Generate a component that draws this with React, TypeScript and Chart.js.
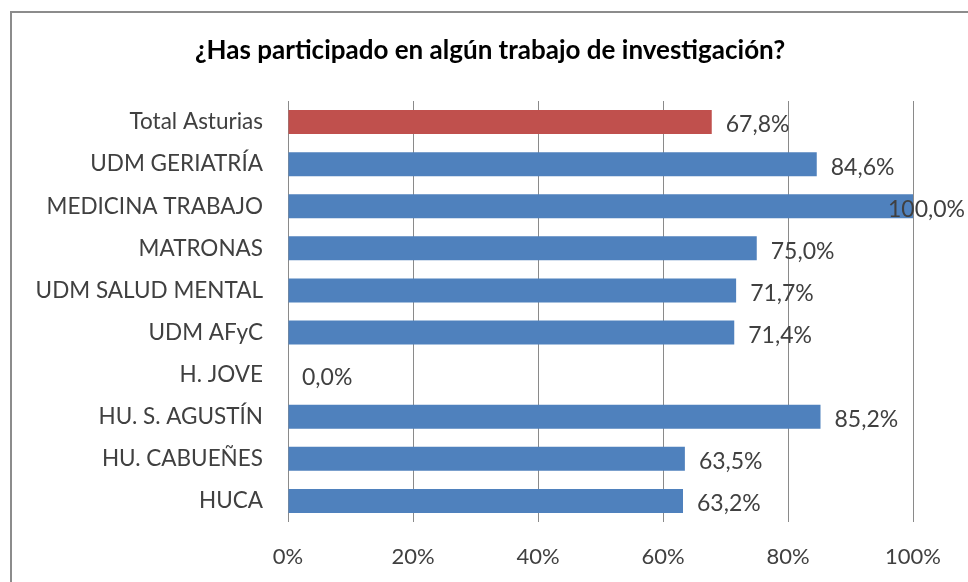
import React, { useEffect, useRef } from "react";
import { Chart, registerables } from "chart.js";

Chart.register(...registerables);

const TITLE = "¿Has participado en algún trabajo de investigación?";
const categories = [
  "Total Asturias",
  "UDM GERIATRÍA",
  "MEDICINA TRABAJO",
  "MATRONAS",
  "UDM SALUD MENTAL",
  "UDM AFyC",
  "H. JOVE",
  "HU. S. AGUSTÍN",
  "HU. CABUEÑES",
  "HUCA",
];
const values = [67.8, 84.6, 100.0, 75.0, 71.7, 71.4, 0.0, 85.2, 63.5, 63.2];
const xTicks = [0, 20, 40, 60, 80, 100];

const FONT = "Lato, 'Open Sans', sans-serif";
const TEXT = "#404040";

export default function App() {
  const ref = useRef<HTMLCanvasElement | null>(null);

  useEffect(() => {
    if (!ref.current) return;
    const framePlugin = {
      id: "frame",
      beforeDraw(chart: any) {
        const ctx = chart.ctx;
        ctx.save();
        ctx.fillStyle = "#ffffff";
        ctx.fillRect(0, 0, chart.width, chart.height);
        ctx.strokeStyle = "#8c8c8c";
        ctx.lineWidth = 2;
        ctx.beginPath();
        ctx.moveTo(11, chart.height + 5);
        ctx.lineTo(11, 12);
        ctx.lineTo(chart.width + 5, 12);
        ctx.stroke();
        ctx.fillStyle = "#000000";
        ctx.font = `bold 26px ${FONT}`;
        ctx.textAlign = "center";
        ctx.textBaseline = "middle";
        ctx.fillText(TITLE, 490, 51);
        ctx.restore();
      },
    };
    const labelPlugin = {
      id: "barLabels",
      afterDatasetsDraw(chart: any) {
        const ctx = chart.ctx;
        const meta = chart.getDatasetMeta(0);
        ctx.save();
        ctx.font = `23px ${FONT}`;
        ctx.fillStyle = TEXT;
        ctx.textAlign = "left";
        ctx.textBaseline = "middle";
        meta.data.forEach((bar: any, i: number) => {
          const txt = values[i].toFixed(1).replace(".", ",") + "%";
          const w = ctx.measureText(txt).width;
          let x = bar.x + 14;
          if (x + w > chart.width - 3) x = chart.width - 3 - w;
          ctx.fillText(txt, x, bar.y + 3);
        });
        ctx.restore();
      },
    };
    const chart = new Chart(ref.current, {
      type: "bar",
      data: {
        labels: categories,
        datasets: [
          {
            data: values,
            backgroundColor: (c: any) => (c.dataIndex === 0 ? "#C0504D" : "#4F81BD"),
            borderWidth: 0,
            categoryPercentage: 1,
            barPercentage: 0.57,
          },
        ],
      },
      options: {
        indexAxis: "y",
        animation: false,
        responsive: false,
        maintainAspectRatio: false,
        layout: { padding: { top: 101, left: 10, right: 55, bottom: 18 } },
        plugins: {
          legend: { display: false },
          title: { display: false },
          tooltip: { enabled: false },
        },
        scales: {
          x: {
            min: 0,
            max: 100,
            afterBuildTicks(scale: any) {
              scale.ticks = xTicks.map((v) => ({ value: v }));
            },
            afterFit(scale: any) {
              scale.height = 42;
            },
            grid: { color: "#8a8a8a", lineWidth: 1, drawTicks: false },
            border: { display: false },
            ticks: {
              padding: 22,
              color: TEXT,
              font: { family: FONT, size: 22 },
              callback: (v: any) => v + "%",
            },
          },
          y: {
            afterFit(scale: any) {
              scale.width = 278;
            },
            grid: { display: false },
            border: { display: false },
            ticks: {
              padding: 17,
              color: TEXT,
              font: { family: FONT, size: 22.5 },
            },
          },
        },
      },
      plugins: [framePlugin, labelPlugin],
    } as any);
    return () => chart.destroy();
  }, []);

  return (
    <div style={{ position: "fixed", left: 0, top: 0, width: 968, height: 582 }}>
      <canvas ref={ref} width={968} height={582} style={{ width: 968, height: 582, display: "block" }} />
    </div>
  );
}
